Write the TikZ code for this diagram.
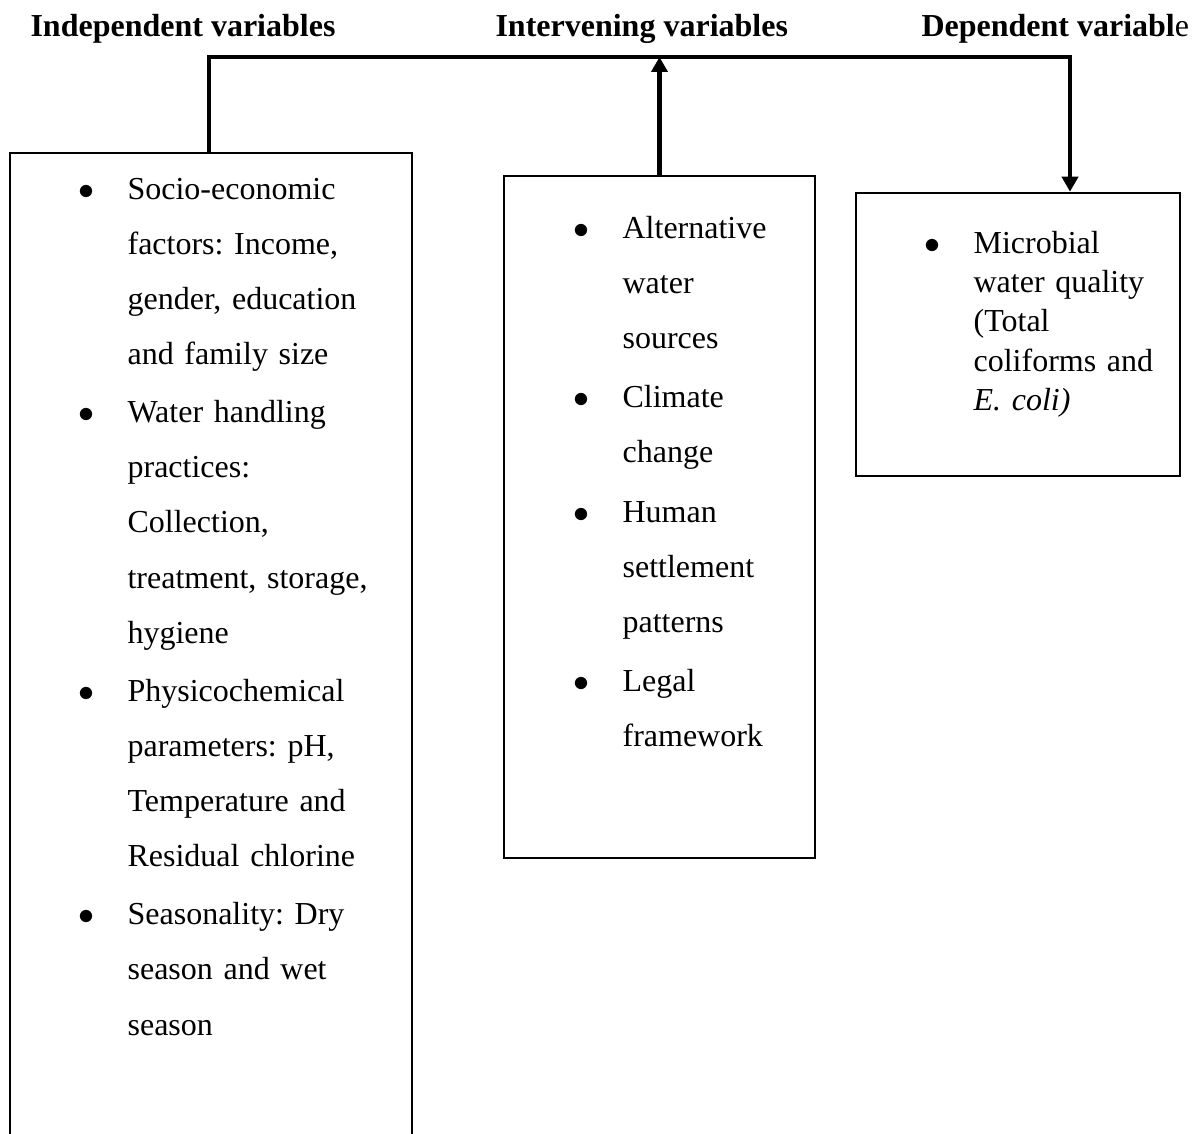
\documentclass[tikz,border=0pt]{standalone}
\usepackage{fontspec}
\setmainfont{Liberation Serif}
\usetikzlibrary{arrows.meta,fit}

\newlength{\bulletind}
\setlength{\bulletind}{18.4pt}
\newcommand{\bitem}[1]{\noindent\llap{\makebox[\bulletind][l]{$\bullet$}}#1\par}
\newcommand{\listsetup}[1]{\frenchspacing\setlength{\leftskip}{\bulletind}\setlength{\parskip}{#1}}

\tikzset{
  varhead/.style={font=\fontsize{12pt}{14pt}\selectfont\bfseries, inner sep=0pt, anchor=base west},
  varbox/.style={draw, line width=1pt, inner sep=0pt},
  varlist/.style={font=\fontsize{12pt}{20.7pt}\selectfont, inner sep=0pt, anchor=base west, align=left},
  bus/.style={line width=1.6pt},
  busarrow/.style={bus, -{Triangle[width=6pt,length=5.6pt]}}
}

\begin{document}
\begin{tikzpicture}[x=0.375pt, y=-0.375pt]
    \useasboundingbox (0,0) rectangle (1198,1133);
    \clip (0,0) rectangle (1198,1133);

    \node[varhead] (indephead) at (30,36) {Independent variables};
    \node[varhead] (intervhead) at (495,36) {Intervening variables};
    \node[varhead] (dephead) at (921,36) {Dependent variabl{\mdseries e}};

    \node[varbox, fit={(10,153) (412,1170)}] (indep) {};
    \node[varbox, fit={(504,176) (815,858)}] (interv) {};
    \node[varbox, fit={(856,193) (1180,476)}] (dep) {};

    \node[varlist, text width=120pt] (indeplist) at (78,199) {\listsetup{1pt}%
        \bitem{Socio-economic\\factors: Income,\\gender, education\\and family size}%
        \bitem{Water handling\\practices:\\Collection,\\treatment, storage,\\hygiene}%
        \bitem{Physicochemical\\parameters: pH,\\Temperature and\\Residual chlorine}%
        \bitem{Seasonality: Dry\\season and wet\\season}};

    \node[varlist, text width=86pt] (intervlist) at (573,238) {\listsetup{1.5pt}%
        \bitem{Alternative\\water\\sources}%
        \bitem{Climate\\change}%
        \bitem{Human\\settlement\\patterns}%
        \bitem{Legal\\framework}};

    \node[varlist, text width=92pt, font=\fontsize{12pt}{14.8pt}\selectfont] (deplist) at (924,253) {\listsetup{0pt}%
        \bitem{Microbial\\water quality\\(Total\\coliforms and\\\textit{E. coli)}}};

    \coordinate (busL) at (209,57);
    \coordinate (busR) at (1070,57);
    \draw[busarrow] (indep.north -| busL) -- (busL) -- (busR) -- (busR |- dep.north);
    \draw[busarrow] (interv.north) -- (interv.north |- busL);
\end{tikzpicture}
\end{document}
